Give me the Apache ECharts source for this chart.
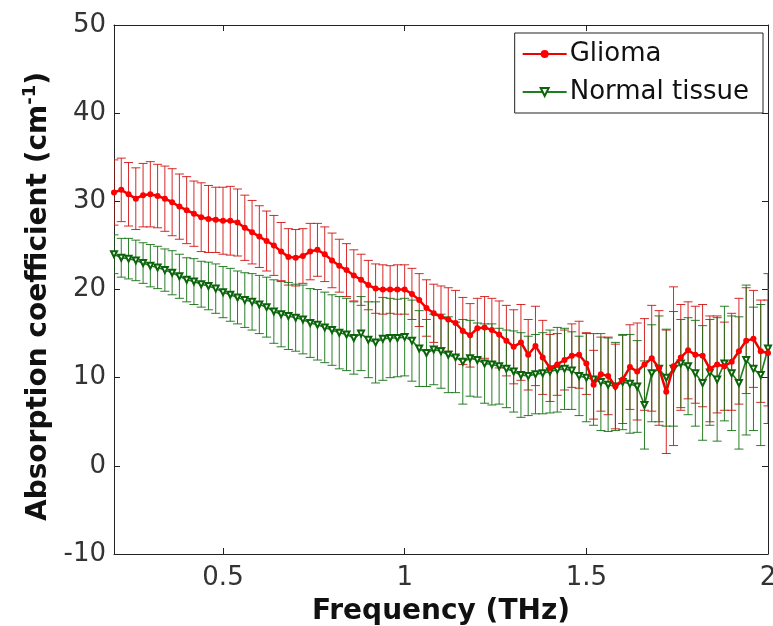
<!DOCTYPE html>
<html><head><meta charset="utf-8">
<script src="https://cdn.jsdelivr.net/npm/echarts@6/dist/echarts.min.js"></script>
<style>html,body{margin:0;padding:0;background:#fff}#c{width:773px;height:626px}</style>
</head><body><div id="c"></div>
<script>
const freq = [0.20,0.22,0.24,0.26,0.28,0.30,0.32,0.34,0.36,0.38,
  0.40,0.42,0.44,0.46,0.48,0.50,0.52,0.54,0.56,0.58,
  0.60,0.62,0.64,0.66,0.68,0.70,0.72,0.74,0.76,0.78,
  0.80,0.82,0.84,0.86,0.88,0.90,0.92,0.94,0.96,0.98,
  1.00,1.02,1.04,1.06,1.08,1.10,1.12,1.14,1.16,1.18,
  1.20,1.22,1.24,1.26,1.28,1.30,1.32,1.34,1.36,1.38,
  1.40,1.42,1.44,1.46,1.48,1.50,1.52,1.54,1.56,1.58,
  1.60,1.62,1.64,1.66,1.68,1.70,1.72,1.74,1.76,1.78,
  1.80,1.82,1.84,1.86,1.88,1.90,1.92,1.94,1.96,1.98,2.00];
const gliomaMean = [31.0,31.3,30.8,30.3,30.7,30.8,30.6,30.3,29.9,29.4,
  29.0,28.6,28.2,28.0,27.9,27.8,27.8,27.6,27.0,26.5,
  26.0,25.5,25.0,24.3,23.7,23.6,23.8,24.3,24.5,24.0,
  23.3,22.7,22.2,21.6,21.1,20.5,20.1,20.0,20.0,20.0,
  20.0,19.5,18.8,17.9,17.3,16.9,16.6,16.2,15.3,14.8,
  15.6,15.7,15.4,14.9,14.2,13.5,14.0,12.6,13.6,12.3,
  11.1,11.5,12.0,12.5,12.6,11.6,9.2,10.4,10.2,9.0,
  9.8,11.2,10.7,11.5,12.2,11.1,8.4,11.3,12.3,13.1,
  12.6,12.5,11.0,11.5,11.3,11.8,13.0,14.2,14.4,13.0,12.8];
const gliomaErr = [3.7,3.6,3.6,3.5,3.6,3.7,3.6,3.7,3.8,3.7,
  3.8,3.7,3.9,3.8,3.7,3.8,3.9,3.8,3.7,3.6,
  3.5,3.4,3.4,3.3,3.2,3.2,3.1,3.2,3.0,3.1,
  3.1,3.0,3.0,2.9,2.9,2.8,2.8,2.8,2.7,2.8,
  2.8,2.9,3.0,3.2,3.3,3.5,3.6,3.7,3.8,3.6,
  3.4,3.5,3.6,3.8,4.0,4.2,4.3,4.0,4.5,4.2,
  3.8,3.5,3.4,3.6,3.8,3.5,3.9,4.2,4.4,4.8,
  5.0,4.8,5.5,5.2,6.0,6.5,7.0,9.0,6.0,5.5,
  5.5,5.8,6.0,5.5,5.0,5.5,6.0,6.0,5.5,5.8,6.0];
const normalMean = [24.0,23.6,23.5,23.3,23.0,22.7,22.5,22.2,21.9,21.5,
  21.1,20.9,20.6,20.4,20.1,19.7,19.4,19.1,18.8,18.6,
  18.3,18.0,17.5,17.2,17.0,16.8,16.6,16.2,16.0,15.7,
  15.4,15.1,14.9,14.5,15.0,14.3,14.0,14.4,14.5,14.5,
  14.6,14.2,13.3,12.8,13.2,13.0,12.6,12.3,11.8,12.2,
  12.0,11.6,11.5,11.3,11.0,10.7,10.3,10.2,10.4,10.5,
  10.7,10.9,11.0,10.8,10.2,10.0,9.8,9.5,9.2,9.0,
  9.5,9.3,9.0,6.9,10.5,11.0,10.0,11.0,11.6,11.3,
  10.5,9.4,10.6,9.8,11.6,10.5,9.4,12.0,11.0,10.3,13.3];
const normalErr = [2.2,2.2,2.3,2.3,2.3,2.4,2.4,2.4,2.5,2.5,
  2.5,2.6,2.6,2.7,2.8,2.9,3.0,3.0,3.1,3.2,
  3.3,3.4,3.6,3.7,3.8,3.8,3.9,3.9,4.0,4.0,
  4.0,4.1,4.1,4.1,4.2,4.3,4.6,4.7,4.5,4.4,
  4.4,4.6,4.3,3.8,4.0,4.2,4.3,4.0,4.8,4.3,
  4.2,4.5,4.6,4.3,4.4,4.6,4.8,4.5,4.5,4.6,
  4.7,4.8,4.6,4.4,4.5,5.0,5.2,5.5,5.3,5.0,
  5.4,5.6,5.2,5.0,5.5,6.0,5.5,6.5,5.0,5.5,
  6.0,6.5,6.0,7.0,6.5,6.5,7.5,8.5,7.0,8.0,8.5];
const xTicks = [0.5, 1, 1.5, 2];

const chart = echarts.init(document.getElementById('c'), null, {renderer:'canvas'});
function errData(mean, err){ return freq.map((f,i)=>[f, mean[i]-err[i], mean[i]+err[i]]); }
function lineData(mean){ return freq.map((f,i)=>[f, mean[i]]); }
function errRender(color){
  return function(params, api){
    const x = api.value(0), lo = api.value(1), hi = api.value(2);
    const a = api.coord([x, hi]), b = api.coord([x, lo]);
    const w = 4.5;
    const st = {stroke: color, lineWidth: 1};
    return {type:'group', children:[
      {type:'line', shape:{x1:a[0], y1:a[1], x2:b[0], y2:b[1]}, style:st},
      {type:'line', shape:{x1:a[0]-w, y1:a[1], x2:a[0]+w, y2:a[1]}, style:st},
      {type:'line', shape:{x1:b[0]-w, y1:b[1], x2:b[0]+w, y2:b[1]}, style:st}
    ]};
  };
}
const FONT = 'DejaVu Sans';
const axisLineStyle = {color:'#222', width:1};
chart.setOption({
  animation:false,
  backgroundColor:'#fff',
  grid:{left:114, right:5, top:25, bottom:72, containLabel:false, outerBoundsMode:'none'},
  legend:{
    data:['Glioma','Normal tissue'],
    orient:'vertical', right:10, top:33,
    backgroundColor:'#fff', borderColor:'#222', borderWidth:1,
    padding:[8,14,8,7], itemGap:12, itemWidth:44, itemHeight:10,
    textStyle:{fontFamily:FONT, fontSize:26, color:'#111', padding:[0,0,0,-2]}
  },
  xAxis:[{
    type:'value', min:0.2, max:2.0, position:'bottom',
    axisLine:{show:true, onZero:false, lineStyle:axisLineStyle},
    axisTick:{show:true, inside:true, length:6, customValues:xTicks, lineStyle:axisLineStyle},
    axisLabel:{customValues:xTicks, fontFamily:FONT, fontSize:26, color:'#333', margin:11},
    splitLine:{show:false},
    name:'Frequency (THz)', nameLocation:'middle', nameGap:44,
    nameTextStyle:{fontFamily:FONT, fontSize:28, fontWeight:'bold', color:'#111'}
  },{
    type:'value', min:0.2, max:2.0, position:'top',
    axisLine:{show:true, onZero:false, lineStyle:axisLineStyle},
    axisTick:{show:true, inside:true, length:6, customValues:xTicks, lineStyle:axisLineStyle},
    axisLabel:{show:false}, splitLine:{show:false}
  }],
  yAxis:[{
    type:'value', min:-10, max:50, interval:10, position:'left',
    axisLine:{show:true, onZero:false, lineStyle:axisLineStyle},
    axisTick:{show:true, inside:true, length:6, lineStyle:axisLineStyle},
    axisLabel:{fontFamily:FONT, fontSize:26, color:'#333', margin:8},
    splitLine:{show:false},
    name:'{a|Absorption coefficient (cm}{s|-1}{a|)}', nameLocation:'middle', nameGap:58, nameRotate:90,
    nameTextStyle:{padding:[0,0,0,-14], rich:{
      a:{fontFamily:FONT, fontSize:28, fontWeight:'bold', color:'#111', lineHeight:34},
      s:{fontFamily:FONT, fontSize:18, fontWeight:'bold', color:'#111', verticalAlign:'top', lineHeight:34}
    }}
  },{
    type:'value', min:-10, max:50, interval:10, position:'right',
    axisLine:{show:true, onZero:false, lineStyle:axisLineStyle},
    axisTick:{show:true, inside:true, length:6, lineStyle:axisLineStyle},
    axisLabel:{show:false}, splitLine:{show:false}
  }],
  series:[
    {type:'custom', name:'gErr', renderItem:errRender('rgba(210,18,18,0.9)'), data:errData(gliomaMean, gliomaErr),
      encode:{x:0, y:[1,2]}, clip:true, z:2, silent:true},
    {type:'custom', name:'nErr', renderItem:errRender('rgba(18,112,18,0.9)'), data:errData(normalMean, normalErr),
      encode:{x:0, y:[1,2]}, clip:true, z:3, silent:true},
    {type:'line', name:'Normal tissue', data:lineData(normalMean), z:4,
      symbol:'emptyTriangle', symbolRotate:180, symbolSize:6, showAllSymbol:true,
      lineStyle:{color:'#1f7f1f', width:1.6},
      itemStyle:{color:'#0b640b', borderColor:'#0b640b', borderWidth:1.2}},
    {type:'line', name:'Glioma', data:lineData(gliomaMean), z:5,
      symbol:'circle', symbolSize:6, showAllSymbol:true,
      lineStyle:{color:'#f00000', width:2.5},
      itemStyle:{color:'#ff0000'}}
  ]
});
</script></body></html>
